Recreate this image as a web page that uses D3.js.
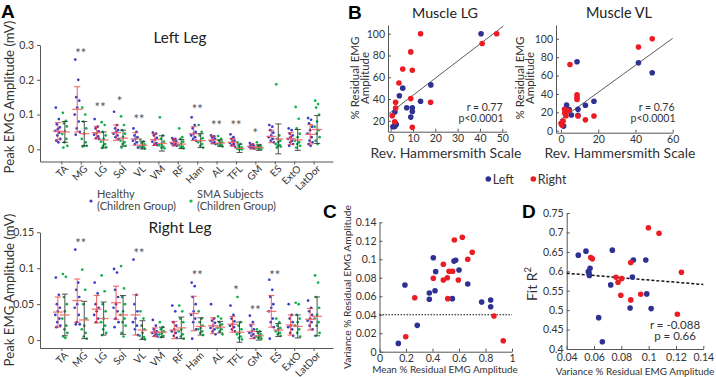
<!DOCTYPE html>
<meta charset="utf-8">
<script src="https://d3js.org/d3.v7.min.js"></script>
<style>
  body { margin: 0; background: #fff; }
  text { font-family: Lato, "Open Sans", sans-serif; fill: #333; }
  .axis path, .axis line { stroke: #555; }
  .axis text { fill: #333; font-family: Lato, "Open Sans", sans-serif; }
  .letter { font-family: "Liberation Sans", Arial, sans-serif; font-weight: bold; font-size: 19px; fill: #000; }
</style>
<div id="fig"></div>
<script>

// ---------- data: panel A ----------
var muscles = ["TA","MG","LG","Sol","VL","VM","RF","Ham","AL","TFL","GM","ES","ExtO","LatDor"];

// left leg, individual subjects (mV)
var leftHealthy = [
  [0.12,0.087,0.072,0.063,0.058,0.053,0.048,0.04,0.03,0.025,0.02],
  [0.258,0.2,0.15,0.14,0.12,0.1,0.08,0.06,0.05,0.042],
  [0.087,0.065,0.06,0.052,0.047,0.042,0.037,0.032,0.03],
  [0.108,0.07,0.06,0.055,0.05,0.045,0.04,0.035,0.03],
  [0.06,0.05,0.04,0.035,0.03,0.025,0.02,0.015,0.005],
  [0.048,0.045,0.04,0.033,0.028,0.022,0.018,0.014,0.012],
  [0.032,0.03,0.027,0.024,0.02,0.017,0.015,0.012,0.01],
  [0.092,0.07,0.06,0.05,0.045,0.04,0.035,0.03,0.025],
  [0.04,0.037,0.034,0.03,0.027,0.024,0.02,0.018,0.015],
  [0.043,0.035,0.03,0.025,0.022,0.018,0.015,0.012,0.008],
  [0.018,0.014,0.012,0.01,0.008,0.007,0.006,0.004,0.002],
  [0.07,0.065,0.055,0.048,0.04,0.035,0.03,0.025,0.02],
  [0.06,0.055,0.045,0.04,0.035,0.03,0.025,0.02,0.015,0.01],
  [0.09,0.085,0.075,0.065,0.055,0.045,0.035,0.025,0.02,0.015,0.01]
];
var leftSMA = [
  [0.105,0.082,0.075,0.066,0.052,0.044,0.03,0.02,0.01,0.005],
  [0.12,0.1,0.08,0.06,0.045,0.03,0.02,0.01,0.01,0.008],
  [0.078,0.07,0.05,0.04,0.03,0.022,0.015,0.01,0.006,0.004],
  [0.095,0.07,0.055,0.045,0.035,0.025,0.02,0.015,0.01,0.005],
  [0.028,0.022,0.018,0.014,0.01,0.008,0.006,0.004,0.002],
  [0.092,0.04,0.03,0.022,0.016,0.012,0.008,0.005,0.003],
  [0.06,0.035,0.03,0.022,0.016,0.012,0.008,0.005,0.003],
  [0.07,0.05,0.04,0.032,0.025,0.02,0.015,0.01,0.005],
  [0.038,0.03,0.025,0.02,0.018,0.015,0.013,0.01,0.008],
  [0.02,0.015,0.01,0.006,0.004,0.002,0.001,0.0,0.0],
  [0.02,0.012,0.009,0.007,0.005,0.004,0.003,0.002,0.001],
  [0.187,0.04,0.03,0.025,0.02,0.015,0.012,0.01,0.008,0.005],
  [0.122,0.088,0.06,0.045,0.035,0.025,0.02,0.015,0.01,0.005],
  [0.14,0.13,0.12,0.1,0.08,0.065,0.055,0.045,0.035,0.025,0.015]
];
var leftHealthyMean = [0.052,0.115,0.048,0.048,0.030,0.028,0.020,0.045,0.027,0.020,0.008,0.037,0.031,0.043];
var leftHealthySD   = [0.025,0.065,0.018,0.022,0.018,0.017,0.010,0.020,0.011,0.011,0.007,0.018,0.017,0.028];
var leftSMAMean     = [0.050,0.045,0.027,0.032,0.012,0.017,0.015,0.025,0.018,0.003,0.005,0.030,0.027,0.057];
var leftSMASD       = [0.030,0.035,0.023,0.023,0.011,0.022,0.013,0.020,0.009,0.012,0.008,0.043,0.030,0.040];
var leftSig  = ["","**","**","*","**","","","**","**","**","*","","",""];
var leftSigY = [0,0.282,0.127,0.146,0.094,0,0,0.123,0.075,0.075,0.053,0,0,0];

// right leg
var rightHealthy = [
  [0.087,0.063,0.05,0.045,0.04,0.035,0.03,0.025,0.02,0.018],
  [0.126,0.08,0.07,0.06,0.05,0.045,0.035,0.025,0.022,0.022],
  [0.08,0.065,0.05,0.045,0.04,0.035,0.03,0.025],
  [0.099,0.094,0.07,0.06,0.05,0.045,0.04,0.03,0.025,0.018],
  [0.112,0.063,0.05,0.04,0.03,0.025,0.02,0.015,0.007],
  [0.028,0.02,0.015,0.012,0.011,0.01,0.008,0.006,0.005],
  [0.048,0.04,0.025,0.02,0.015,0.012,0.01,0.006,0.003],
  [0.08,0.075,0.06,0.05,0.04,0.035,0.03,0.025,0.015,0.002],
  [0.05,0.03,0.027,0.024,0.02,0.017,0.015,0.012,0.008],
  [0.048,0.035,0.03,0.026,0.022,0.02,0.018,0.015,0.012],
  [0.034,0.025,0.02,0.015,0.012,0.01,0.008,0.006,0.003],
  [0.084,0.07,0.06,0.05,0.045,0.04,0.03,0.025,0.018,0.002],
  [0.05,0.035,0.03,0.025,0.02,0.018,0.015,0.01,0.006],
  [0.055,0.045,0.04,0.035,0.03,0.027,0.025,0.02,0.015]
];
var rightSMA = [
  [0.092,0.088,0.06,0.05,0.04,0.03,0.02,0.015,0.01,0.005,0.003],
  [0.098,0.07,0.05,0.03,0.02,0.015,0.01,0.005,0.002],
  [0.09,0.068,0.05,0.04,0.03,0.025,0.02,0.015,0.01,0.007],
  [0.103,0.072,0.06,0.05,0.04,0.035,0.03,0.025,0.02,0.01,0.005],
  [0.04,0.03,0.02,0.015,0.01,0.006,0.004,0.002,0.001],
  [0.025,0.018,0.015,0.012,0.01,0.008,0.006,0.004],
  [0.048,0.04,0.03,0.025,0.015,0.012,0.008,0.005,0.002],
  [0.04,0.03,0.025,0.02,0.017,0.015,0.012,0.01,0.007],
  [0.033,0.03,0.025,0.022,0.02,0.017,0.015,0.012,0.008],
  [0.06,0.025,0.02,0.015,0.01,0.008,0.005,0.003,0.001],
  [0.015,0.012,0.01,0.008,0.006,0.005,0.004,0.003,0.002],
  [0.03,0.025,0.02,0.017,0.015,0.012,0.01,0.008,0.006],
  [0.052,0.05,0.035,0.03,0.025,0.02,0.015,0.01,0.005],
  [0.09,0.08,0.06,0.045,0.035,0.03,0.025,0.02,0.01,0.006]
];
var rightHealthyMean = [0.039,0.055,0.043,0.052,0.035,0.011,0.014,0.037,0.020,0.022,0.012,0.040,0.021,0.029];
var rightHealthySD   = [0.021,0.030,0.019,0.023,0.028,0.006,0.012,0.024,0.011,0.011,0.010,0.022,0.014,0.015];
var rightSMAMean     = [0.035,0.028,0.030,0.035,0.014,0.011,0.017,0.019,0.018,0.011,0.006,0.014,0.019,0.033];
var rightSMASD       = [0.029,0.026,0.023,0.027,0.013,0.007,0.015,0.012,0.008,0.014,0.006,0.009,0.016,0.027];
var rightSig  = ["","**","","","**","","","**","","*","**","**","",""];
var rightSigY = [0,0.138,0,0,0.124,0,0,0.093,0,0.072,0.044,0.094,0,0];

// ---------- data: panel B ----------
var lgLeftX  = [40.5,18,5.4,3.9,13.4,7.2,9.7,9.7,1.9,9,2,1.0,1.8,2.5];
var lgLeftY  = [100,53,50,43,38,32,32,28.6,28,23.4,17.9,14.5,14.8,16.5];
var lgRightX = [13.4,47.5,41,9,5.4,9.7,3.7,9,17.9,2.2,2.2,0.7,1.8,9.7];
var lgRightY = [100,100,91,83.3,67.6,66.4,54.7,40.4,37,37,31.8,24.6,19,14];
var lgFit = [[-0.8,26.5],[50.5,107]];

var vlLeftX  = [8.6,41.6,49,17.7,3,13.1,1.9,4.4,9.1,5.6,9.1,1.4];
var vlLeftY  = [75,74,63,32,28,27.6,23.3,23,23.3,17,16.8,5];
var vlRightX = [49,41.6,4.8,8.6,8.6,8.6,2,3.9,2,2.7,9.1,17.7,13.1,1.1,0,0.5];
var vlRightY = [100,91,72,39,36,34,23,21.7,19,16.2,16,16,11.8,10.5,8,6];
var vlFit = [[-0.5,11.7],[60,100.5]];

// ---------- data: panel C ----------
var cLeftX  = [0.406,0.192,0.424,0.562,0.575,0.6,0.666,0.376,0.419,0.376,0.55,0.771,0.839,0.839,0.285,0.142];
var cLeftY  = [0.1017,0.0722,0.0866,0.098,0.099,0.0884,0.0733,0.0635,0.066,0.0568,0.0574,0.0538,0.056,0.0487,0.0285,0.009];
var cRightX = [0.625,0.565,0.7,0.666,0.482,0.525,0.552,0.406,0.512,0.482,0.595,0.266,0.515,0.864,0.198,0.934];
var cRightY = [0.1238,0.1209,0.1075,0.1,0.0946,0.087,0.087,0.0794,0.08,0.0775,0.0776,0.0584,0.0574,0.0386,0.0162,0.0119];
var cThreshold = 0.04;

// ---------- data: panel D ----------
var dLeftX  = [0.0485,0.0541,0.0734,0.0571,0.0558,0.0563,0.0566,0.0888,0.0979,0.0881,0.0722,0.0986,0.0864,0.1018,0.0634,0.0661];
var dLeftY  = [0.6415,0.6518,0.6544,0.608,0.599,0.596,0.589,0.629,0.629,0.585,0.565,0.5418,0.5057,0.504,0.4807,0.4188];
var dRightX = [0.0998,0.1076,0.0576,0.0588,0.0869,0.124,0.0761,0.0803,0.0776,0.0796,0.0942,0.0869,0.121];
var dRightY = [0.7119,0.698,0.6353,0.632,0.6225,0.5977,0.5848,0.5812,0.5719,0.5384,0.541,0.5263,0.4894];
var dFit = [[0.04,0.595],[0.14,0.566]];

// ---------- colours ----------
var blueA = "#3b3bc4", greenA = "#12b04f";
var redBar = "#ee4040", greyBar = "#333", meanCol = "#f46a6a";
var blue = "#2e3192", red = "#ec1c24";

var svg = d3.select("#fig").append("svg")
  .attr("width", 716).attr("height", 377);

// shrink/grow a single-line label so it spans the given width
function fitWidth(sel, w) {
  var len = sel.node().getComputedTextLength();
  sel.attr("font-size", parseFloat(sel.attr("font-size")) * w / len);
  return sel;
}

// deterministic horizontal spread of the dots inside a group
var spread = [-2,1,-1,2,0,-2.5,1.5,-0.5,2.5,-1.5,0.5];

// ===== Panel A =====
function drawLeg(o) {
  var x = d3.scaleLinear().domain([-0.1, 15]).range([40, 333]);
  var y = d3.scaleLinear().domain(o.yDomain).range(o.yRange);
  var g = svg.append("g");

  var xa = g.append("g").attr("class", "axis")
    .attr("transform", "translate(0," + o.yRange[0] + ")")
    .call(d3.axisBottom(x).tickValues(d3.range(1, 15)).tickSize(3).tickSizeOuter(0)
      .tickFormat(function(d){ return muscles[d-1]; }));
  xa.selectAll("text")
    .attr("x", 0).attr("y", 0).attr("dy", 0)
    .attr("text-anchor", "end")
    .attr("font-size", 10)
    .attr("transform", "translate(7,8) rotate(-45)");

  g.append("g").attr("class", "axis")
    .attr("transform", "translate(40,0)")
    .call(d3.axisLeft(y).tickValues(o.yTicks).tickSize(3).tickSizeOuter(0)
      .tickFormat(function(d){ return d === 0 ? "0" : String(+d.toFixed(3)); }))
    .selectAll("text").attr("font-size", 10.5);

  var groups = [
    {pts: o.healthy, mean: o.hMean, sd: o.hSd, dx: -3.5, col: blueA, bar: redBar},
    {pts: o.sma, mean: o.sMean, sd: o.sSd, dx: 3.5, col: greenA, bar: greyBar}
  ];

  groups.forEach(function(gr) {
    muscles.forEach(function(m, i) {
      var cx = x(i + 1) + gr.dx;
      g.selectAll(null).data(gr.pts[i]).enter().append("circle")
        .attr("cx", function(d, j){ return cx + spread[j % spread.length]; })
        .attr("cy", function(d){ return y(d); })
        .attr("r", 1.35)
        .attr("fill", gr.col);
    });
  });

  groups.forEach(function(gr) {
    muscles.forEach(function(m, i) {
      var cx = x(i + 1) + gr.dx;
      var top = y(gr.mean[i] + gr.sd[i]), bot = y(gr.mean[i] - gr.sd[i]);
      var eb = g.append("g").attr("stroke", gr.bar).attr("stroke-width", 1).attr("opacity", 0.85);
      eb.append("line").attr("x1", cx).attr("x2", cx).attr("y1", top).attr("y2", bot);
      eb.append("line").attr("x1", cx - 3).attr("x2", cx + 3).attr("y1", top).attr("y2", top);
      eb.append("line").attr("x1", cx - 3).attr("x2", cx + 3).attr("y1", bot).attr("y2", bot);
      g.append("line")
        .attr("x1", cx - 5).attr("x2", cx + 5)
        .attr("y1", y(gr.mean[i])).attr("y2", y(gr.mean[i]))
        .attr("stroke", meanCol).attr("stroke-width", 1.3).attr("opacity", 0.9);
    });
  });

  o.sig.forEach(function(s, i) {
    if (!s) return;
    g.append("text")
      .attr("x", x(i + 1)).attr("y", y(o.sigY[i]) + 7)
      .attr("text-anchor", "middle")
      .attr("font-size", 13).style("fill", "#555")
      .text(s);
  });

  fitWidth(g.append("text")
    .attr("x", 180).attr("y", o.titleY)
    .attr("text-anchor", "middle").attr("font-size", 15).style("fill", "#222")
    .text(o.title), o.titleW);

  fitWidth(g.append("text")
    .attr("transform", "translate(14," + o.labelY + ") rotate(-90)")
    .attr("text-anchor", "middle").attr("font-size", 12)
    .text("Peak EMG Amplitude (mV)"), 153);
}

drawLeg({
  yDomain: [-0.035, 0.3], yRange: [161.5, 45], yTicks: [0, 0.1, 0.2, 0.3],
  healthy: leftHealthy, sma: leftSMA,
  hMean: leftHealthyMean, hSd: leftHealthySD, sMean: leftSMAMean, sSd: leftSMASD,
  sig: leftSig, sigY: leftSigY, title: "Left Leg", titleY: 43, titleW: 53, labelY: 97
});
drawLeg({
  yDomain: [-0.011, 0.15], yRange: [348, 232.3], yTicks: [0, 0.05, 0.1, 0.15],
  healthy: rightHealthy, sma: rightSMA,
  hMean: rightHealthyMean, hSd: rightHealthySD, sMean: rightSMAMean, sSd: rightSMASD,
  sig: rightSig, sigY: rightSigY, title: "Right Leg", titleY: 233, titleW: 63, labelY: 290
});

// legend A
[[91, "Healthy", blueA], [191, "SMA Subjects", greenA]].forEach(function(l) {
  svg.append("circle").attr("cx", l[0]).attr("cy", 201).attr("r", 1.6).attr("fill", l[2]);
  var t = svg.append("text").attr("font-size", 11).style("fill", "#444");
  t.append("tspan").attr("x", l[0] + 6).attr("y", 198).text(l[1]);
  t.append("tspan").attr("x", l[0] + 6).attr("y", 209.5).text("(Children Group)");
});

// ===== scatter helper =====
function scatter(o) {
  var x = d3.scaleLinear().domain(o.xDomain).range(o.xRange);
  var y = d3.scaleLinear().domain(o.yDomain).range(o.yRange);
  var g = svg.append("g");
  g.append("g").attr("class", "axis")
    .attr("transform", "translate(0," + o.yRange[0] + ")")
    .call(d3.axisBottom(x).tickValues(o.xTicks).tickSize(-3).tickSizeOuter(0).tickPadding(o.xPad || 3)
      .tickFormat(function(d){ return String(+d.toFixed(3)); }))
    .selectAll("text").attr("font-size", o.tickFont);
  g.append("g").attr("class", "axis")
    .attr("transform", "translate(" + o.xRange[0] + ",0)")
    .call(d3.axisLeft(y).tickValues(o.yTicks).tickSize(-3).tickSizeOuter(0).tickPadding(3)
      .tickFormat(function(d){ return String(+d.toFixed(3)); }))
    .selectAll("text").attr("font-size", o.tickFont);

  if (o.fit) {
    g.append("line")
      .attr("x1", x(o.fit[0][0])).attr("y1", y(o.fit[0][1]))
      .attr("x2", x(o.fit[1][0])).attr("y2", y(o.fit[1][1]))
      .attr("stroke", o.fitColor || "#333").attr("stroke-width", o.fitWidth || 0.8)
      .attr("stroke-dasharray", o.fitDash || null);
  }
  [[o.lx, o.ly, blue], [o.rx, o.ry, red]].forEach(function(s) {
    g.selectAll(null).data(s[0]).enter().append("circle")
      .attr("cx", function(d){ return x(d); })
      .attr("cy", function(d, i){ return y(s[1][i]); })
      .attr("r", 2.8).attr("fill", s[2]);
  });
  return {x: x, y: y, g: g};
}

// ===== Panel B =====
var lg = scatter({
  xDomain: [-1.2, 52], xRange: [388, 506.7], yDomain: [10, 108], yRange: [131.7, 25],
  xTicks: [0,10,20,30,40,50], yTicks: [20,40,60,80,100], tickFont: 10.5,
  lx: lgLeftX, ly: lgLeftY, rx: lgRightX, ry: lgRightY, fit: lgFit
});
var vl = scatter({
  xDomain: [-2.7, 60], xRange: [556, 672.7], yDomain: [-2.2, 115], yRange: [132.7, 25],
  xTicks: [0,20,40,60], yTicks: [0,20,40,60,80,100], tickFont: 10.5,
  lx: vlLeftX, ly: vlLeftY, rx: vlRightX, ry: vlRightY, fit: vlFit
});

[[445, "Muscle LG", 359, 502.5, "r = 0.77"], [619, "Muscle VL", 523.5, 674.5, "r = 0.76"]].forEach(function(p) {
  fitWidth(svg.append("text").attr("x", p[0]).attr("y", 18).attr("text-anchor", "middle")
    .attr("font-size", 15).style("fill", "#222").text(p[1]), 66);
  fitWidth(svg.append("text").attr("x", p[0] + 1).attr("y", 158).attr("text-anchor", "middle")
    .attr("font-size", 14).text("Rev. Hammersmith Scale"), 151);
  var t = svg.append("text").attr("transform", "translate(" + p[2] + ",78) rotate(-90)")
    .attr("text-anchor", "middle").attr("font-size", 11.5);
  t.append("tspan").attr("x", 0).attr("y", 0).text("% Residual EMG");
  t.append("tspan").attr("x", 0).attr("y", 10).text("Amplitude");
  svg.append("text").attr("x", p[3]).attr("y", 110.5).attr("text-anchor", "end")
    .attr("font-size", 10.5).text(p[4]);
  svg.append("text").attr("x", p[3] + 1).attr("y", 122).attr("text-anchor", "end")
    .attr("font-size", 10.5).text("p<0.0001");
});

// legend B
[[488.3, "Left", blue], [533.3, "Right", red]].forEach(function(l) {
  svg.append("circle").attr("cx", l[0]).attr("cy", 179).attr("r", 2.8).attr("fill", l[2]);
  svg.append("text").attr("x", l[0] + 4.5).attr("y", 183.5).attr("font-size", 12.5).text(l[1]);
});

// ===== Panel C =====
var pc = scatter({
  xDomain: [0, 1], xRange: [379.5, 512], yDomain: [0, 0.14], yRange: [351.7, 222.3],
  xTicks: [0,0.2,0.4,0.6,0.8,1], yTicks: [0,0.02,0.04,0.06,0.08,0.1,0.12,0.14], tickFont: 10.5,
  lx: cLeftX, ly: cLeftY, rx: cRightX, ry: cRightY
});
pc.g.insert("line", "circle")
  .attr("x1", pc.x(0)).attr("x2", pc.x(1))
  .attr("y1", pc.y(cThreshold)).attr("y2", pc.y(cThreshold))
  .attr("stroke", "#111").attr("stroke-width", 1).attr("stroke-dasharray", "1.5,1.5");
fitWidth(svg.append("text").attr("transform", "translate(351,287) rotate(-90)")
  .attr("text-anchor", "middle").attr("font-size", 11)
  .text("Variance % Residual EMG Amplitude"), 164);
fitWidth(svg.append("text").attr("x", 445).attr("y", 373).attr("text-anchor", "middle")
  .attr("font-size", 11).text("Mean % Residual EMG Amplitude"), 146);

// ===== Panel D =====
var pd = scatter({
  xDomain: [0.04, 0.14], xRange: [566.7, 703.3], yDomain: [0.4, 0.75], yRange: [349, 213],
  xTicks: [0.04,0.06,0.08,0.1,0.12,0.14], yTicks: [0.4,0.45,0.5,0.55,0.6,0.65,0.7,0.75], tickFont: 10.5,
  xPad: 5,
  lx: dLeftX, ly: dLeftY, rx: dRightX, ry: dRightY,
  fit: dFit, fitColor: "#111", fitWidth: 1.5, fitDash: "3,2"
});
var fr = svg.append("text").attr("transform", "translate(537,284) rotate(-90)")
  .attr("text-anchor", "middle").attr("font-size", 14);
fr.append("tspan").text("Fit R");
fr.append("tspan").attr("dy", -6).attr("font-size", 9.5).text("2");
fitWidth(svg.append("text").attr("x", 635).attr("y", 374.5).attr("text-anchor", "middle")
  .attr("font-size", 11).text("Variance % Residual EMG Amplitude"), 159);
svg.append("text").attr("x", 675).attr("y", 328.5).attr("text-anchor", "middle")
  .attr("font-size", 11.5).text("r = -0.088");
svg.append("text").attr("x", 675).attr("y", 340).attr("text-anchor", "middle")
  .attr("font-size", 11.5).text("p = 0.66");

// panel letters
[["A", 1, 18], ["B", 348, 19], ["C", 323, 217.5], ["D", 522, 218]].forEach(function(l) {
  svg.append("text").attr("class", "letter").attr("x", l[1]).attr("y", l[2]).text(l[0]);
});

</script>
